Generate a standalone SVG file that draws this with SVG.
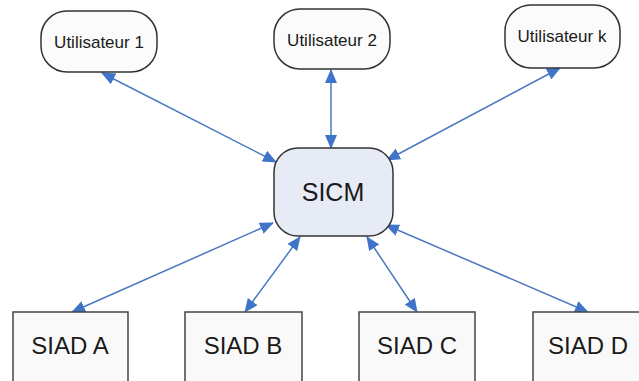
<svg xmlns="http://www.w3.org/2000/svg" width="639" height="381" viewBox="0 0 639 381">
<style>
.u{fill:#fbfbfb;stroke:#333;stroke-width:1.5}
.c{fill:#e6ebf6;stroke:#333;stroke-width:1.5}
.s{fill:#f9f9f9;stroke:#444;stroke-width:1.5}
.t{font-family:"Liberation Sans",Arial,sans-serif;fill:#1a1a1a;text-anchor:middle}
.e{stroke:#4a78c0;stroke-width:1.5;fill:none;marker-start:url(#a);marker-end:url(#a)}
</style>
<defs>
<marker id="a" viewBox="0 0 14 12" refX="13" refY="6" markerWidth="14" markerHeight="12" markerUnits="userSpaceOnUse" orient="auto-start-reverse">
<path d="M0,0 L14,6 L0,12 z" fill="#3f74c8"/>
</marker>
</defs>
<rect width="639" height="381" fill="#fff"/>
<g id="connectors">
<line class="e" x1="102" y1="73" x2="276" y2="162"/>
<line class="e" x1="331" y1="70" x2="331" y2="148"/>
<line class="e" x1="560" y1="68" x2="387" y2="160"/>
<line class="e" x1="273" y1="223" x2="72" y2="312"/>
<line class="e" x1="300" y1="237" x2="245" y2="312"/>
<line class="e" x1="367" y1="237" x2="417" y2="312"/>
<line class="e" x1="386" y1="225" x2="588" y2="312"/>
</g>
<g id="u1"><rect class="u" x="41" y="11" width="116" height="61" rx="26"/><text class="t" x="99" y="48" font-size="17">Utilisateur 1</text></g>
<g id="u2"><rect class="u" x="274" y="9" width="116" height="60" rx="26"/><text class="t" x="332" y="46" font-size="17">Utilisateur 2</text></g>
<g id="uk"><rect class="u" x="505" y="5" width="115" height="63" rx="26"/><text class="t" x="562" y="42" font-size="17">Utilisateur k</text></g>
<g id="sicm"><rect class="c" x="274" y="148" width="119" height="88" rx="24"/><text class="t" x="333" y="201" font-size="25">SICM</text></g>
<g id="siadA"><rect class="s" x="13" y="312" width="115" height="80"/><text class="t" x="70" y="354" font-size="24">SIAD A</text></g>
<g id="siadB"><rect class="s" x="185" y="312" width="117" height="80"/><text class="t" x="243" y="354" font-size="24">SIAD B</text></g>
<g id="siadC"><rect class="s" x="359" y="312" width="116" height="80"/><text class="t" x="417" y="354" font-size="24">SIAD C</text></g>
<g id="siadD"><rect class="s" x="533" y="312" width="115" height="80"/><text class="t" x="588" y="354" font-size="24">SIAD D</text></g>
</svg>
